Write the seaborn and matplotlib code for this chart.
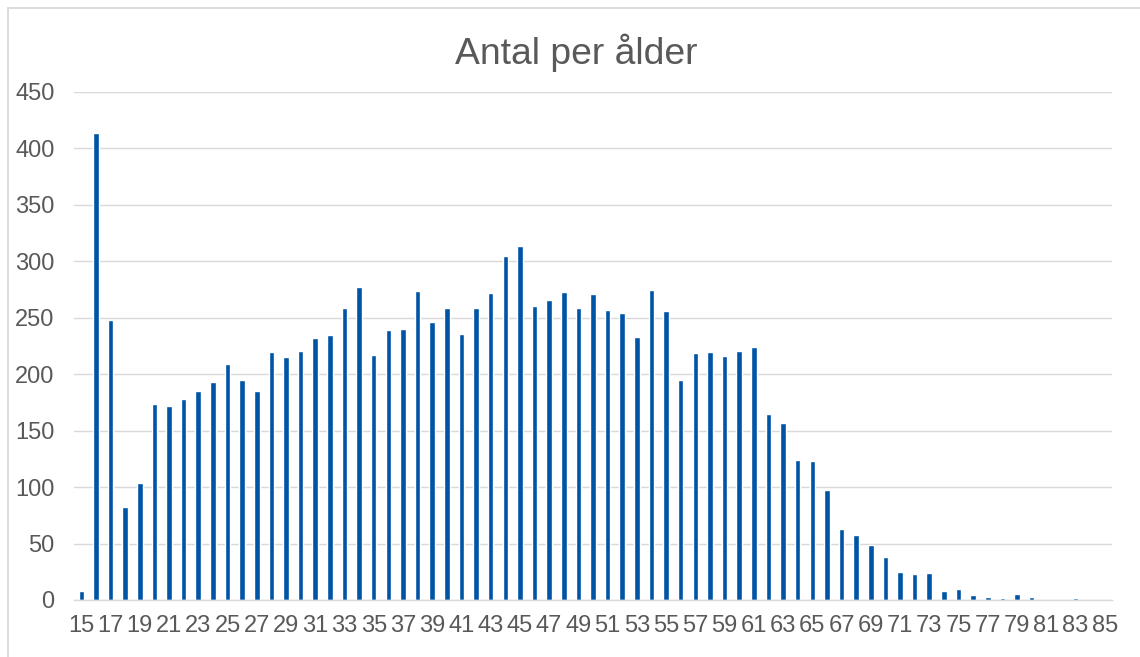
import matplotlib
matplotlib.use("Agg")
import matplotlib.pyplot as plt
import seaborn as sns
import pandas as pd
from matplotlib.patches import Rectangle

# Data: antal personer per ålder (15-85)
ages = list(range(15, 86))
counts = [
    8, 414, 248, 82, 104, 174, 172, 178, 185, 193,      # 15-24
    209, 195, 185, 220, 215, 221, 232, 235, 259, 277,   # 25-34
    217, 239, 240, 274, 246, 259, 236, 259, 272, 305,   # 35-44
    314, 260, 266, 273, 259, 271, 257, 254, 233, 275,   # 45-54
    256, 195, 219, 220, 216, 221, 224, 165, 157, 124,   # 55-64
    123, 97, 63, 58, 49, 38, 25, 23, 24, 8,             # 65-74
    10, 4, 3, 2, 5, 3, 0, 0, 2, 0,                      # 75-84
    0,                                                  # 85
]
title = "Antal per ålder"

df = pd.DataFrame({"age": ages, "count": counts})

# --- stil ---
sns.set_style("white")
plt.rcParams["font.family"] = ["Liberation Sans", "DejaVu Sans"]

bar_color = "#0054A6"
grid_color = "#D9D9D9"
text_color = "#595959"

fig = plt.figure(figsize=(11.4, 6.57), dpi=100)
W, H = 1140, 657
ax = fig.add_axes([74 / W, 57 / H, (1112 - 74) / W, (600 - 92) / H])

sns.barplot(data=df, x="age", y="count", color=bar_color, width=0.38,
            saturation=1, ax=ax)

ax.set_xlim(-0.5, len(ages) - 0.5)
ax.set_ylim(0, 450)
ax.set_yticks(range(0, 451, 50))
ax.yaxis.grid(True, color=grid_color, linewidth=1.0)
ax.set_axisbelow(True)

# etiketter på varannan ålder
ax.set_xticks(range(0, len(ages), 2))
ax.set_xticklabels([str(a) for a in ages[::2]])

ax.tick_params(axis="both", length=0, labelsize=17, labelcolor=text_color)
ax.tick_params(axis="x", pad=11)
ax.tick_params(axis="y", pad=14)
ax.set_xlabel("")
ax.set_ylabel("")

for side in ["top", "right", "left"]:
    ax.spines[side].set_visible(False)
ax.spines["bottom"].set_color(grid_color)
ax.spines["bottom"].set_linewidth(1.0)

# titel
fig.text(576 / W, 1 - 64 / H, title, ha="center", va="baseline",
         fontsize=26.8, color=text_color)

# diagramram
fig.patches.append(Rectangle((8 / W, -0.1), 1.2, 1 - 8 / H + 0.1,
                             transform=fig.transFigure, fill=False,
                             edgecolor=grid_color, linewidth=1.3))

fig.savefig("out.png", dpi=100)
plt.close(fig)
